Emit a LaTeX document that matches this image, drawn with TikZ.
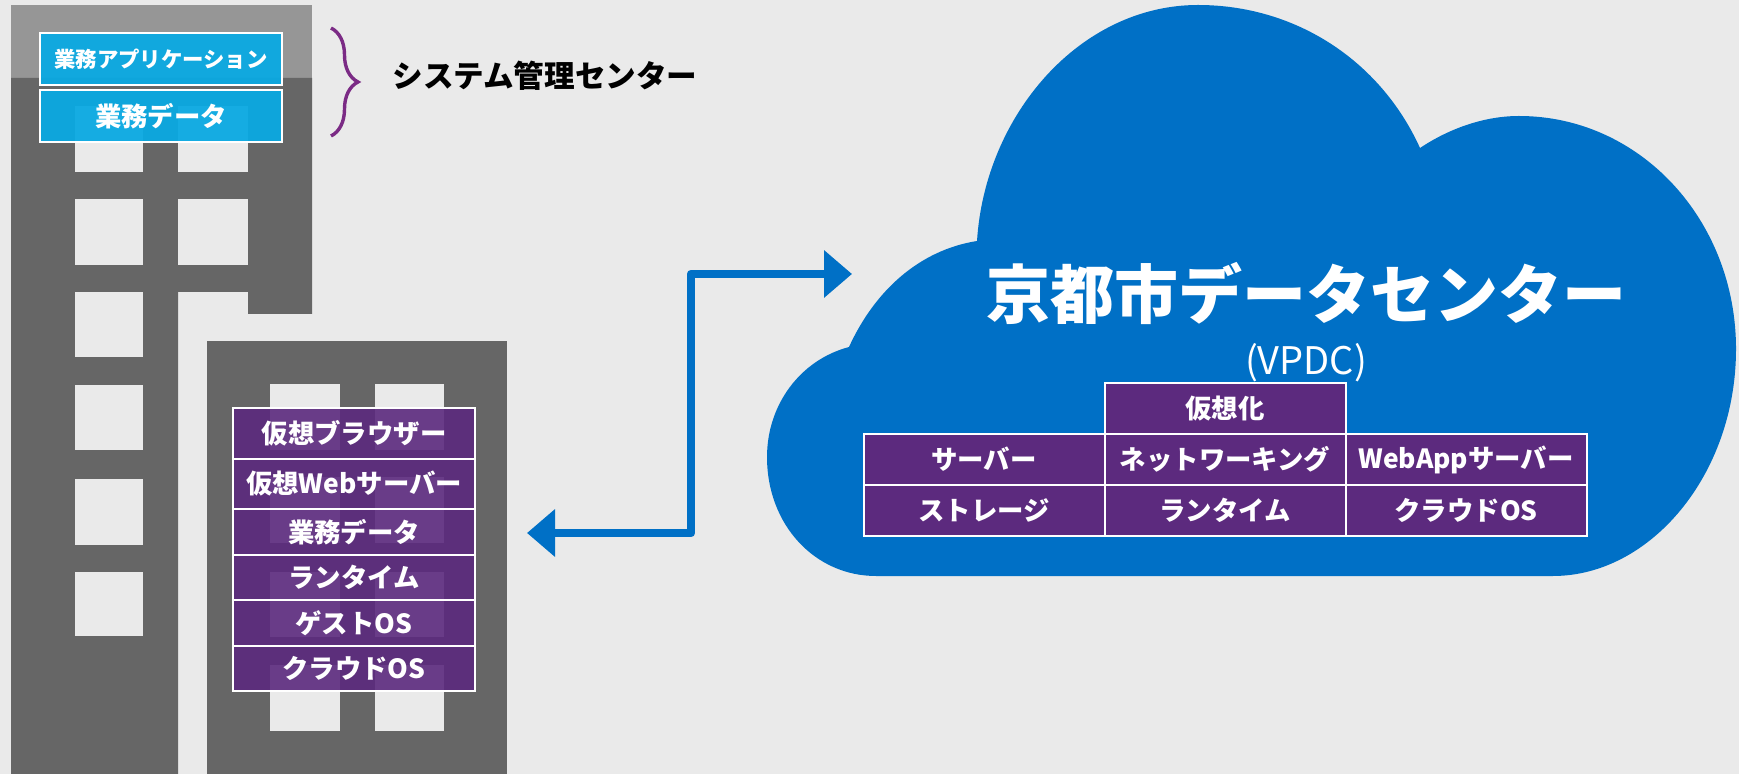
\documentclass[tikz,border=0pt]{standalone}
\usepackage{fontspec}
\setmainfont{Noto Sans CJK JP}
\usetikzlibrary{positioning, arrows.meta, decorations.pathreplacing}
\definecolor{pagegray}{HTML}{EAEAEA}
\definecolor{towergray}{HTML}{666666}
\definecolor{towertop}{HTML}{969696}
\definecolor{cloudblue}{HTML}{0070C6}
\definecolor{cellpurple}{HTML}{5C2A7E}
\definecolor{skyblue}{HTML}{0AA9E2}
\definecolor{bracepurple}{HTML}{7B2B85}

\begin{document}
\begin{tikzpicture}[x=0.5pt, y=-0.5pt, node distance=0pt,
    cell/.style={draw=white, line width=1pt, fill=cellpurple, text=white, font=\fontsize{13.2}{15}\selectfont\bfseries, inner sep=0pt, outer sep=0pt},
    stackcell/.style={cell, fill opacity=0.9, text opacity=1, minimum width=121pt},
    tablecell/.style={cell, minimum width=120.5pt, minimum height=25.5pt},
    bluecell/.style={cell, fill=skyblue, fill opacity=0.95, text opacity=1, minimum width=121pt, minimum height=26pt}
  ]
  \useasboundingbox (0,0) rectangle (1739,774);
  \fill[pagegray] (0,0) rectangle (1739,774);

  % first building
  \fill[towertop] (11,5) rectangle (312,78);
  \fill[towergray] (11,78) -- (312,78) -- (312,314) -- (248,314) -- (248,292) -- (178,292) -- (178,774) -- (11,774) -- cycle;
  \fill[pagegray] (75,106) rectangle (143,172);
  \fill[pagegray] (178,106) rectangle (248,172);
  \fill[pagegray] (75,199) rectangle (143,265);
  \fill[pagegray] (178,199) rectangle (248,265);
  \fill[pagegray] (75,292) rectangle (143,357);
  \fill[pagegray] (75,385) rectangle (143,450);
  \fill[pagegray] (75,479) rectangle (143,545);
  \fill[pagegray] (75,572) rectangle (143,636);

  % second building
  \fill[towergray] (207,341) rectangle (507,774);
  \fill[pagegray] (270,384) rectangle (340,450);
  \fill[pagegray] (375,384) rectangle (444,450);
  \fill[pagegray] (270,477) rectangle (340,543);
  \fill[pagegray] (375,477) rectangle (444,543);
  \fill[pagegray] (270,572) rectangle (340,637);
  \fill[pagegray] (375,572) rectangle (444,637);
  \fill[pagegray] (270,665) rectangle (340,731);
  \fill[pagegray] (375,665) rectangle (444,731);

  % cloud
  \fill[cloudblue] (977,241)
    .. controls (985,115) and (1080,5) .. (1198,5)
    .. controls (1295,5) and (1380,60) .. (1420,148)
    .. controls (1450,128) and (1485,116) .. (1519,116)
    .. controls (1640,116) and (1736,220) .. (1736,349)
    .. controls (1736,475) and (1650,576) .. (1553,576)
    -- (876,576)
    .. controls (815,576) and (767,525) .. (767,457)
    .. controls (767,405) and (800,360) .. (849,347)
    .. controls (875,290) and (920,250) .. (977,241) -- cycle;

  % top left labels
  \node[bluecell, font=\fontsize{10.7}{13}\selectfont\bfseries] (apptier) at (161,59) {業務アプリケーション};
  \node[bluecell, below=2.5pt of apptier] (datatier) {業務データ};
  \coordinate (bracetop) at (331,28);
  \coordinate (bracebot) at (331,136);
  \draw[bracepurple, line width=1.7pt, decorate, decoration={brace, amplitude=13.5pt}] (bracetop) -- (bracebot);
  \node[anchor=west, inner sep=0pt, font=\fontsize{15.3}{18}\selectfont\bfseries] (sysname) at (392,76) {システム管理センター};

  % stack in the second building
  \node[stackcell, minimum height=25.5pt] (browser) at (354,433.5) {仮想ブラウザー};
  \node[stackcell, minimum height=25pt, below=of browser] (webserver) {仮想Webサーバー};
  \node[stackcell, minimum height=23pt, below=of webserver] (bizdata) {業務データ};
  \node[stackcell, minimum height=22.5pt, below=of bizdata] (runtime) {ランタイム};
  \node[stackcell, minimum height=23pt, below=of runtime] (guestos) {ゲストOS};
  \node[stackcell, minimum height=22.5pt, below=of guestos] (cloudos) {クラウドOS};

  % cloud contents
  \node[text=white, inner sep=0pt, font=\fontsize{32}{38}\selectfont\bfseries] (dcname) at (1306,293) {京都市データセンター};
  \node[text=white, inner sep=0pt, font=\fontsize{19}{23}\selectfont, below=9pt of dcname] (vpdc) {(VPDC)};
  \node[tablecell] (virt) at (1225,408.5) {仮想化};
  \node[tablecell, below=of virt] (network) {ネットワーキング};
  \node[tablecell, left=of network] (server) {サーバー};
  \node[tablecell, right=of network] (webapp) {WebAppサーバー};
  \node[tablecell, below=of network] (vruntime) {ランタイム};
  \node[tablecell, left=of vruntime] (storage) {ストレージ};
  \node[tablecell, right=of vruntime] (vcloudos) {クラウドOS};

  % link
  \coordinate (linkcloud) at (852,274);
  \coordinate (linktower) at (527,533);
  \coordinate (linkupper) at (691,274);
  \coordinate (linklower) at (691,533);
  \draw[cloudblue, line width=4.3pt, line join=round, {Triangle[length=14pt, width=23pt]}-{Triangle[length=14pt, width=23pt]}] (linktower) -- (linklower) -- (linkupper) -- (linkcloud);
\end{tikzpicture}
\end{document}
